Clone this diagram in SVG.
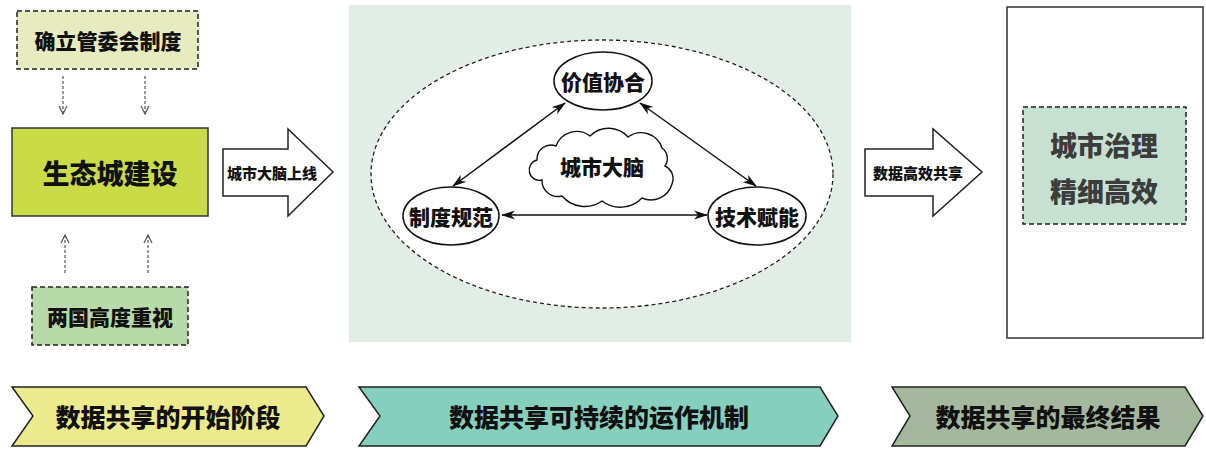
<svg xmlns="http://www.w3.org/2000/svg" width="1206" height="453" viewBox="0 0 1206 453">
<defs>
<style>
text{font-family:"Noto Sans CJK SC","Noto Sans",sans-serif;font-weight:900;text-anchor:middle;dominant-baseline:central;fill:#111}
.dash{stroke:#222;stroke-width:1.5;stroke-dasharray:5 3}
.dot{stroke:#555;stroke-width:1.2;stroke-dasharray:3 2;fill:none}
.edge{stroke:#111;stroke-width:1.5;fill:none}
.node{fill:#fff;stroke:#111;stroke-width:1.5}
.chev{stroke:#222;stroke-width:1.5}
</style>
<marker id="vh" viewBox="0 0 10 10" refX="9" refY="5" markerWidth="10" markerHeight="10" markerUnits="userSpaceOnUse" orient="auto">
<path d="M1,1 L9,5 L1,9" fill="none" stroke="#555" stroke-width="1.2"/>
</marker>
<marker id="ah" viewBox="0 0 14 10" refX="13" refY="5" markerWidth="14" markerHeight="10" markerUnits="userSpaceOnUse" orient="auto-start-reverse">
<path d="M0,0.5 L14,5 L0,9.5 L4,5 Z" fill="#111"/>
</marker>
</defs>

<rect x="349" y="5" width="502" height="337" fill="#e2eee5"/>

<g id="n-guanwei">
<rect x="17" y="11" width="181" height="58" fill="#e6ecbf" class="dash"/>
<text x="108" y="40" font-size="21">确立管委会制度</text>
</g>
<g id="n-shengtai">
<rect x="12" y="128" width="196" height="88" fill="#c9dc48" stroke="#333" stroke-width="1.5"/>
<text x="110" y="172" font-size="27">生态城建设</text>
</g>
<g id="n-liangguo">
<rect x="32" y="287" width="156" height="58" fill="#b8d9a9" class="dash"/>
<text x="110" y="316" font-size="21">两国高度重视</text>
</g>
<g id="a-brain-online">
<path d="M223,149 L288,149 L288,129 L333,172 L288,216 L288,196 L223,196 Z" fill="#fff" stroke="#222" stroke-width="1.5"/>
<text x="272" y="172" font-size="15">城市大脑上线</text>
</g>

<g id="n-ellipse">
<ellipse cx="602" cy="174" rx="231" ry="134" fill="#fff" stroke="#222" stroke-width="1.3" stroke-dasharray="4 3"/>
</g>
<g id="n-cloud">
<path d="M537,160 A14,14 0 0 1 556,146 A22,22 0 0 1 590,136 A26,26 0 0 1 628,137 A22,22 0 0 1 662,148 A13,13 0 0 1 665,166 A14,14 0 0 1 672,184 A22,22 0 0 1 642,198 A30,30 0 0 1 602,201 A30,30 0 0 1 562,196 A16,16 0 0 1 542,180 A10,10 0 0 1 537,160 Z" fill="#fff" stroke="#111" stroke-width="1.4"/>
<text x="602" y="166" font-size="21">城市大脑</text>
</g>
<g id="n-jiazhi">
<ellipse cx="603" cy="81" rx="49" ry="29" class="node"/>
<text x="603" y="81" font-size="21">价值协合</text>
</g>
<g id="n-zhidu">
<ellipse cx="451" cy="216" rx="48" ry="29" class="node"/>
<text x="451" y="216" font-size="21">制度规范</text>
</g>
<g id="n-jishu">
<ellipse cx="757" cy="216" rx="49" ry="29" class="node"/>
<text x="757" y="216" font-size="21">技术赋能</text>
</g>

<g id="a-share">
<path d="M865,149 L933,149 L933,129 L982,172 L933,216 L933,196 L865,196 Z" fill="#fff" stroke="#222" stroke-width="1.5"/>
<text x="918" y="172" font-size="15">数据高效共享</text>
</g>
<g id="n-result">
<rect x="1007" y="7" width="196" height="331" fill="#fff" stroke="#333" stroke-width="1.5"/>
<rect x="1023" y="107" width="163" height="117" fill="#c6e1d1" class="dash"/>
<text x="1104" y="144" font-size="27" style="fill:#3c3c3c">城市治理</text>
<text x="1104" y="190" font-size="27" style="fill:#3c3c3c">精细高效</text>
</g>

<g id="connectors">
<line x1="63" y1="76" x2="63" y2="114" class="dot" marker-end="url(#vh)"/>
<line x1="145" y1="76" x2="145" y2="114" class="dot" marker-end="url(#vh)"/>
<line x1="65" y1="273" x2="65" y2="235" class="dot" marker-end="url(#vh)"/>
<line x1="148" y1="273" x2="148" y2="235" class="dot" marker-end="url(#vh)"/>
<line x1="565" y1="103" x2="453" y2="186" class="edge" marker-start="url(#ah)" marker-end="url(#ah)"/>
<line x1="640" y1="103" x2="756" y2="186" class="edge" marker-start="url(#ah)" marker-end="url(#ah)"/>
<line x1="502" y1="215" x2="707" y2="215" class="edge" marker-start="url(#ah)" marker-end="url(#ah)"/>
</g>

<g id="s-start">
<path d="M12,387 L306,387 L324,416 L306,446 L12,446 L33,416 Z" fill="#ebea8c" class="chev"/>
<text x="168" y="416" font-size="25">数据共享的开始阶段</text>
</g>
<g id="s-mech">
<path d="M359,387 L820,387 L838,416 L820,446 L359,446 L380,416 Z" fill="#86cfbd" class="chev"/>
<text x="599" y="416" font-size="25">数据共享可持续的运作机制</text>
</g>
<g id="s-end">
<path d="M892,387 L1185,387 L1203,416 L1185,446 L892,446 L910,416 Z" fill="#a4b89e" class="chev"/>
<text x="1048" y="416" font-size="25">数据共享的最终结果</text>
</g>
</svg>
